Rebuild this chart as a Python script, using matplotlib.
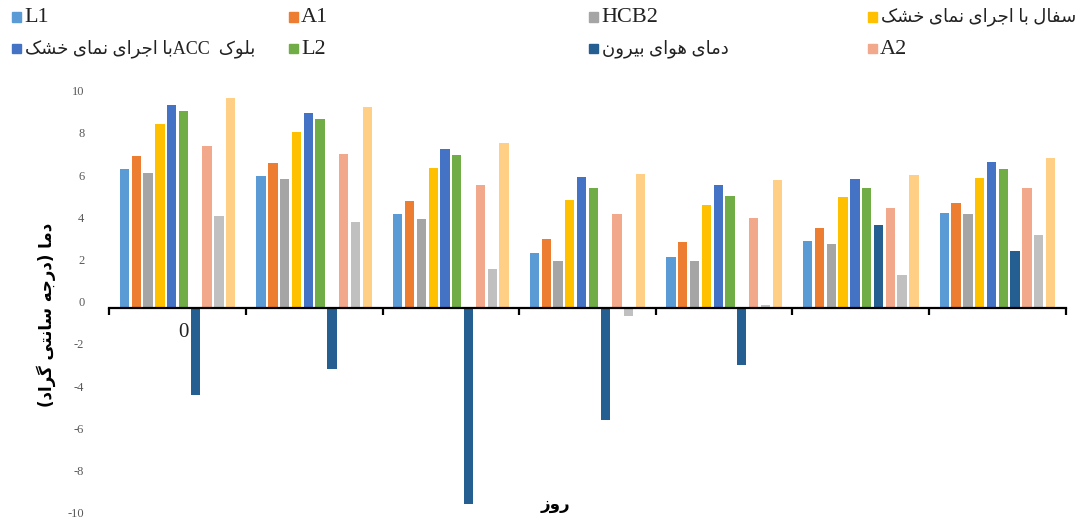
import re

import numpy as np
import matplotlib
matplotlib.use("Agg")
import matplotlib.pyplot as plt
from matplotlib.patches import Rectangle
from matplotlib.transforms import ScaledTranslation

# ---- data -------------------------------------------------------------
days = ["0", "", "", "", "", "", ""]

l1 = [6.57, 6.26, 4.44, 2.59, 2.42, 3.16, 4.49]
a1 = [7.19, 6.84, 5.07, 3.26, 3.11, 3.78, 4.98]
hcb2 = [6.37, 6.08, 4.19, 2.20, 2.20, 3.03, 4.44]
clay_dry = [8.69, 8.33, 6.62, 5.10, 4.85, 5.26, 6.13]
acc_dry = [9.61, 9.21, 7.54, 6.18, 5.82, 6.08, 6.89]
l2 = [9.31, 8.94, 7.22, 5.69, 5.29, 5.69, 6.57]
outside_air = [-4.14, -2.92, -9.32, -5.32, -2.70, 3.92, 2.69]
a2 = [7.68, 7.27, 5.82, 4.44, 4.24, 4.72, 5.69]
series_9 = [4.33, 4.05, 1.83, -0.39, 0.12, 1.53, 3.45]
series_10 = [9.94, 9.53, 7.81, 6.34, 6.05, 6.30, 7.09]

series_names = [
    "L1",
    "A1",
    "HCB2",
    "سفال با اجرای نمای خشک",
    "بلوک  ACCبا اجرای نمای خشک",
    "L2",
    "دمای هوای بیرون",
    "A2",
    None,
    None,
]
series_values = [l1, a1, hcb2, clay_dry, acc_dry, l2, outside_air, a2,
                 series_9, series_10]
series_colors = ["#5B9BD5", "#ED7D31", "#A5A5A5", "#FFC000", "#4472C4",
                 "#70AD47", "#255E91", "#F2A88B", "#C0C0C0", "#FFCF85"]

y_ticks = list(range(-10, 11, 2))

# ---- minimal Arabic/Persian shaping (matplotlib has no text shaping) ---
# isolated, final, initial, medial
FORMS = {
    "ا": ("\uFE8D", "\uFE8E", None, None),
    "ب": ("\uFE8F", "\uFE90", "\uFE91", "\uFE92"),
    "ت": ("\uFE95", "\uFE96", "\uFE97", "\uFE98"),
    "ج": ("\uFE9D", "\uFE9E", "\uFE9F", "\uFEA0"),
    "خ": ("\uFEA5", "\uFEA6", "\uFEA7", "\uFEA8"),
    "د": ("\uFEA9", "\uFEAA", None, None),
    "ر": ("\uFEAD", "\uFEAE", None, None),
    "ز": ("\uFEAF", "\uFEB0", None, None),
    "س": ("\uFEB1", "\uFEB2", "\uFEB3", "\uFEB4"),
    "ش": ("\uFEB5", "\uFEB6", "\uFEB7", "\uFEB8"),
    "ف": ("\uFED1", "\uFED2", "\uFED3", "\uFED4"),
    "ل": ("\uFEDD", "\uFEDE", "\uFEDF", "\uFEE0"),
    "م": ("\uFEE1", "\uFEE2", "\uFEE3", "\uFEE4"),
    "ن": ("\uFEE5", "\uFEE6", "\uFEE7", "\uFEE8"),
    "ه": ("\uFEE9", "\uFEEA", "\uFEEB", "\uFEEC"),
    "و": ("\uFEED", "\uFEEE", None, None),
    "ی": ("\uFBFC", "\uFBFD", "\uFBFE", "\uFBFF"),
    "ک": ("\uFB8E", "\uFB8F", "\uFB90", "\uFB91"),
    "گ": ("\uFB92", "\uFB93", "\uFB94", "\uFB95"),
}
MIRROR = {"(": ")", ")": "("}


def shape(text):
    out = []
    for i, ch in enumerate(text):
        if ch not in FORMS:
            out.append(ch)
            continue
        prev = text[i - 1] if i > 0 else ""
        nxt = text[i + 1] if i + 1 < len(text) else ""
        join_prev = prev in FORMS and FORMS[prev][2] is not None
        join_next = FORMS[ch][2] is not None and nxt in FORMS
        iso, fin, ini, med = FORMS[ch]
        if join_prev and join_next:
            out.append(med)
        elif join_prev:
            out.append(fin)
        elif join_next:
            out.append(ini)
        else:
            out.append(iso)
    return "".join(out)


def rtl(text):
    """Shape and reorder a right-to-left string for left-to-right drawing."""
    shaped = shape(text)
    parts = re.split(r"([A-Za-z0-9]+)", shaped)
    pieces = []
    for p in reversed(parts):
        if re.fullmatch(r"[A-Za-z0-9]+", p):
            pieces.append(p)
        else:
            pieces.append("".join(MIRROR.get(c, c) for c in reversed(p)))
    return "".join(pieces)


def is_rtl(label):
    return re.search(r"[\u0600-\u06FF]", label) is not None


# ---- figure -----------------------------------------------------------
W, H = 1088, 519
fig = plt.figure(figsize=(W / 100, H / 100), dpi=100)
ax = fig.add_axes([109.3 / W, 0.3 / H, 956.4 / W, 422.0 / H])

text_fonts = ["Liberation Serif", "DejaVu Sans"]

n_groups = len(days)
n_series = len(series_values)
slot = 0.864 / n_series
bar_w = 0.068
x = np.arange(n_groups)

for i, (vals, color) in enumerate(zip(series_values, series_colors)):
    offs = -0.432 + slot * (i + 0.5)
    ax.bar(x + offs, vals, width=bar_w, color=color, zorder=2)

ax.set_xlim(-0.5, n_groups - 0.5)
ax.set_ylim(-10, 10)

for side in ["left", "right", "top"]:
    ax.spines[side].set_visible(False)
ax.spines["bottom"].set_position(("data", 0))
ax.spines["bottom"].set_linewidth(1.6)
ax.spines["bottom"].set_zorder(3)

# tick marks between days, label under the day centres
ax.set_xticks(np.arange(n_groups + 1) - 0.5)
ax.set_xticklabels([])
ax.tick_params(axis="x", which="major", length=5, width=1.6, direction="out")
ax.set_xticks(x + 0.04, minor=True)
ax.set_xticklabels(days, minor=True, fontsize=15, family=text_fonts,
                   color="#222222")
ax.tick_params(axis="x", which="minor", length=0, pad=11)

ax.set_yticks(y_ticks)
ax.set_yticklabels([str(v) for v in y_ticks], family=text_fonts,
                   fontsize=9, color="#595959")
ax.tick_params(axis="y", length=0, pad=18)
shift = ScaledTranslation(0, 0.06, fig.dpi_scale_trans)
for lbl in ax.get_yticklabels():
    lbl.set_transform(lbl.get_transform() + shift)

fig.text(46 / W, 1 - 315 / H, rtl("دما (درجه سانتی گراد)"), rotation=90,
         ha="center", va="center", fontsize=12, fontweight="bold",
         family="DejaVu Sans")
fig.text(555 / W, 1 - 504 / H, rtl("روز"), ha="center", va="center",
         fontsize=12, fontweight="bold", family="DejaVu Sans")

# legend laid out row by row, four columns
col_x = [12, 289, 589, 868]
row_y = [17, 49]
sq = 9
entries = [(n, c) for n, c in zip(series_names, series_colors) if n]
for k, (name, color) in enumerate(entries):
    r, c = divmod(k, 4)
    x0, yc = col_x[c], row_y[r]
    fig.add_artist(Rectangle((x0 / W, 1 - (yc + sq / 2) / H), sq / W, sq / H,
                             transform=fig.transFigure, color=color))
    if is_rtl(name):
        fig.text((x0 + sq + 4) / W, 1 - yc / H, rtl(name), ha="left",
                 va="center", fontsize=13, family=text_fonts,
                 color="#222222")
    else:
        fig.text((x0 + sq + 3) / W, 1 - (yc + 1) / H, name, ha="left",
                 va="center", fontsize=16, family=text_fonts,
                 color="#222222")

fig.savefig("out.png", dpi=100)
